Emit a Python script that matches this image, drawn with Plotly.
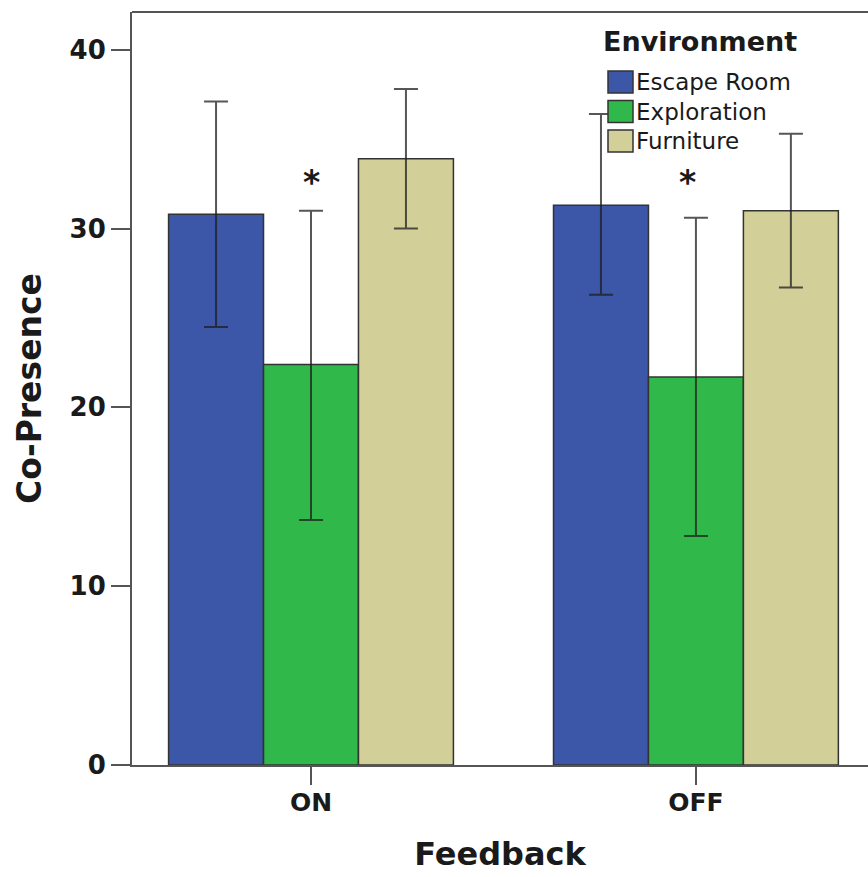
import plotly.graph_objects as go

# Categories and series
feedback = ["ON", "OFF"]
environments = ["Escape Room", "Exploration", "Furniture"]
colors = ["#3C56A8", "#30B94A", "#D3CF98"]

# Mean co-presence score per environment (ON, OFF)
escape_mean = [30.8, 31.3]
exploration_mean = [22.4, 21.7]
furniture_mean = [33.9, 31.0]

# 95% CI bounds (ON, OFF)
escape_hi = [37.1, 36.4]
escape_lo = [24.5, 26.3]
exploration_hi = [31.0, 30.6]
exploration_lo = [13.7, 12.8]
furniture_hi = [37.8, 35.3]
furniture_lo = [30.0, 26.7]

y_ticks = [0, 10, 20, 30, 40]
significant = ["ON", "OFF"]  # Exploration differs significantly in both feedback conditions

means = [escape_mean, exploration_mean, furniture_mean]
highs = [escape_hi, exploration_hi, furniture_hi]
lows = [escape_lo, exploration_lo, furniture_lo]

W, H = 868, 877
ML, MR, MT, MB = 132, 0, 12, 112
PW, PH = W - ML - MR, H - MT - MB

def px(x):
    return (x - ML) / PW

def py(y):
    return (H - MB - y) / PH

fig = go.Figure()
for name, col, m, hi, lo in zip(environments, colors, means, highs, lows):
    fig.add_trace(go.Bar(
        x=feedback, y=m, name=name,
        marker=dict(color=col, line=dict(color="#333333", width=1.5)),
        error_y=dict(type="data", symmetric=False,
                     array=[h - v for h, v in zip(hi, m)],
                     arrayminus=[v - l for l, v in zip(lo, m)],
                     color="rgba(30,30,30,0.75)", thickness=2, width=12),
        showlegend=False,
    ))

axis_col = "#555555"
fig.update_layout(
    width=W, height=H,
    margin=dict(l=ML, r=MR, t=MT, b=MB, pad=0),
    paper_bgcolor="white", plot_bgcolor="white",
    barmode="group", bargap=0.26, bargroupgap=0,
    font=dict(family="DejaVu Sans", color="#1a1a1a"),
    xaxis=dict(
        type="category", range=[-0.465, 1.447],
        showline=True, linecolor=axis_col, linewidth=2,
        ticks="outside", ticklen=18, tickwidth=2, tickcolor=axis_col,
        ticklabelstandoff=-4,
        tickfont=dict(size=25, weight="bold", color="#1a1a1a"),
        title=dict(text="Feedback", font=dict(size=32, weight="bold"), standoff=27),
        showgrid=False, zeroline=False,
    ),
    yaxis=dict(
        range=[0, 42.11], tickvals=y_ticks,
        showline=True, linecolor=axis_col, linewidth=2,
        ticks="outside", ticklen=19, tickwidth=2, tickcolor=axis_col,
        tickfont=dict(size=26, weight="bold", color="#1a1a1a"),
        title=dict(text="Co-Presence", font=dict(size=33, weight="bold"), standoff=18),
        showgrid=False, zeroline=False,
    ),
)

# top frame line
fig.add_shape(type="line", xref="paper", yref="paper", x0=0, x1=1, y0=1, y1=1,
              line=dict(color=axis_col, width=2))

# significance markers above the Exploration bars
for cat, shift in zip(significant, [0, -8]):
    fig.add_annotation(x=cat, y=32.8, text="*", showarrow=False, xshift=shift, yshift=-4,
                       font=dict(size=33, weight="bold", color="#1a1a1a"), yanchor="middle")

# legend
fig.add_annotation(xref="paper", yref="paper", x=px(601), y=py(42), text="Environment",
                   showarrow=False, xanchor="left", yanchor="middle",
                   font=dict(size=27, weight="bold", color="#1a1a1a"))
for i, (name, col) in enumerate(zip(environments, colors)):
    yc = 82 + i * 29.5
    fig.add_shape(type="rect", xref="paper", yref="paper",
                  x0=px(608), x1=px(633), y0=py(yc - 11), y1=py(yc + 11),
                  fillcolor=col, line=dict(color="#333333", width=1.5))
    fig.add_annotation(xref="paper", yref="paper", x=px(634), y=py(yc), text=name,
                       showarrow=False, xanchor="left", yanchor="middle",
                       font=dict(size=23, color="#1a1a1a"))

fig.write_html("out.html")
